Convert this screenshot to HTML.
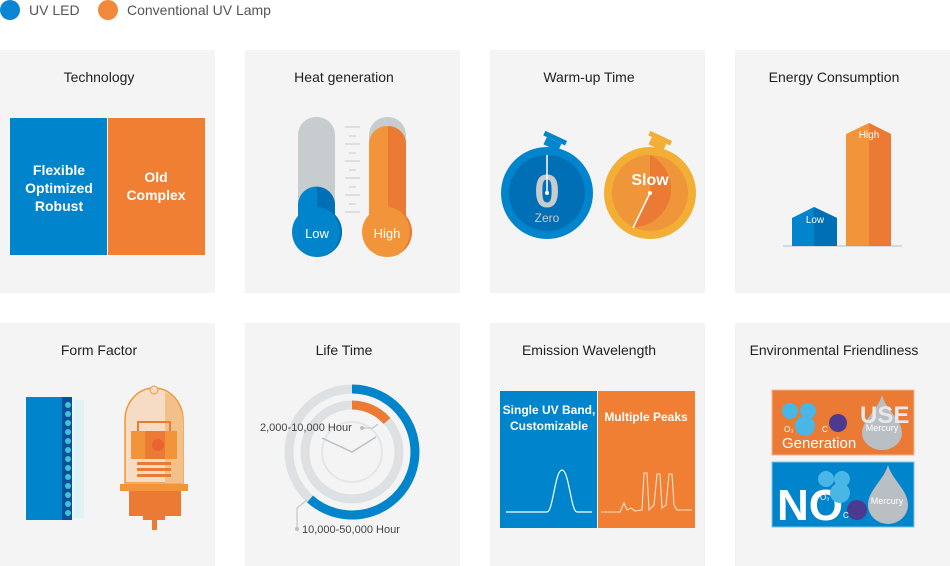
<!DOCTYPE html>
<html><head><meta charset="utf-8"><style>
html,body{margin:0;padding:0;background:#fff;width:950px;height:566px;overflow:hidden}
svg{display:block;font-family:"Liberation Sans",sans-serif}
</style></head><body>
<svg width="950" height="566" viewBox="0 0 950 566" xmlns="http://www.w3.org/2000/svg">
<!-- legend -->
<circle cx="10" cy="10" r="10" fill="#0a85d1"/>
<text x="29" y="15" font-size="14" fill="#555">UV LED</text>
<circle cx="108" cy="10" r="10" fill="#f2883a"/>
<text x="127" y="15" font-size="14" fill="#555">Conventional UV Lamp</text>
<!-- panels -->
<g fill="#f4f4f4">
<rect x="0" y="50" width="215" height="243"/><rect x="245" y="50" width="215" height="243"/>
<rect x="490" y="50" width="215" height="243"/><rect x="735" y="50" width="215" height="243"/>
<rect x="0" y="323" width="215" height="243"/><rect x="245" y="323" width="215" height="243"/>
<rect x="490" y="323" width="215" height="243"/><rect x="735" y="323" width="215" height="243"/>
</g>
<g font-size="14" fill="#222" text-anchor="middle">
<text x="99" y="82">Technology</text><text x="344" y="82">Heat generation</text>
<text x="589" y="82">Warm-up Time</text><text x="834" y="82">Energy Consumption</text>
<text x="99" y="355">Form Factor</text><text x="344" y="355">Life Time</text>
<text x="589" y="355">Emission Wavelength</text><text x="834" y="355">Environmental Friendliness</text>
</g>
<!-- Technology -->
<rect x="10" y="118" width="97" height="137" fill="#0085cc"/>
<rect x="108" y="118" width="97" height="137" fill="#f07f33"/>
<g font-size="14" font-weight="bold" fill="#fff" text-anchor="middle">
<text x="59" y="175">Flexible</text><text x="59" y="193">Optimized</text><text x="59" y="211">Robust</text>
<text x="156" y="182">Old</text><text x="156" y="200">Complex</text>
</g>
<!-- Heat -->
<rect x="298" y="117" width="37" height="110" rx="18" fill="#c7cdcf"/>
<path d="M298 205 a18 18 0 0 1 37 0 V225 H298Z" fill="#0085cc"/>
<path d="M317 187 a18 18 0 0 1 18 18 V225 H317Z" fill="#006fb6"/>
<circle cx="317" cy="232" r="25" fill="#0085cc"/>
<path d="M317 207 a25 25 0 0 1 0 50 a20 22 0 0 0 0 -50Z" fill="#006fb6"/>
<text x="317" y="238" font-size="13" fill="#fff" text-anchor="middle">Low</text>
<rect x="369" y="117" width="37" height="110" rx="18" fill="#c7cdcf"/>
<rect x="369" y="126" width="37" height="105" rx="18" fill="#f2953a"/>
<path d="M388 126 a18 18 0 0 1 18 18 V225 H388Z" fill="#ea7a34"/>
<circle cx="387" cy="232" r="25" fill="#f2953a"/>
<path d="M387 207 a25 25 0 0 1 0 50 a20 22 0 0 0 0 -50Z" fill="#ea7a34"/>
<text x="387" y="238" font-size="13" fill="#fff" text-anchor="middle">High</text>
<g stroke="#c5cacd" stroke-width="1">
<line x1="345" y1="127" x2="360" y2="127"/><line x1="349" y1="136" x2="356" y2="136"/>
<line x1="345" y1="144" x2="360" y2="144"/><line x1="349" y1="153" x2="356" y2="153"/>
<line x1="345" y1="161" x2="360" y2="161"/><line x1="349" y1="170" x2="356" y2="170"/>
<line x1="345" y1="178" x2="360" y2="178"/><line x1="349" y1="187" x2="356" y2="187"/>
<line x1="345" y1="195" x2="360" y2="195"/><line x1="349" y1="204" x2="356" y2="204"/>
<line x1="345" y1="212" x2="360" y2="212"/>
</g>
<!-- Warm-up -->
<g transform="rotate(25 552 145)"><rect x="544" y="140" width="16" height="8" fill="#0085cc"/><rect x="540" y="135" width="24" height="5" fill="#0085cc"/></g>
<circle cx="547" cy="193" r="46" fill="#0085cc"/>
<circle cx="547" cy="193" r="38" fill="#006fb6"/>
<text x="547" y="207" font-size="46" font-weight="bold" fill="#c7cdcf" text-anchor="middle">0</text>
<line x1="547" y1="155" x2="547" y2="193" stroke="#fff" stroke-width="1.5"/><circle cx="547" cy="193" r="2" fill="#fff"/>
<text x="547" y="222" font-size="12" fill="#c7cdcf" text-anchor="middle">Zero</text>
<g transform="rotate(25 657 145)"><rect x="649" y="140" width="16" height="8" fill="#f3ae35"/><rect x="645" y="135" width="24" height="5" fill="#f3ae35"/></g>
<circle cx="650" cy="193" r="46" fill="#f3ae35"/>
<circle cx="650" cy="193" r="38" fill="#f0963a"/>
<path d="M650 155 a38 38 0 0 1 -17 72 L650 193Z" fill="#ea7a34"/>
<line x1="650" y1="193" x2="633" y2="228" stroke="#fff" stroke-width="1.5"/><circle cx="650" cy="193" r="2" fill="#fff"/>
<text x="650" y="185" font-size="16" font-weight="bold" fill="#fff" text-anchor="middle">Slow</text>
<!-- Energy -->
<rect x="783" y="245" width="119" height="2" fill="#d5d9db"/>
<path d="M792 218 L814 207 L837 218 V246 H792Z" fill="#0085cc"/>
<path d="M814 207 L837 218 V246 H814Z" fill="#006fb6"/>
<text x="815" y="223" font-size="10" fill="#fff" text-anchor="middle">Low</text>
<path d="M846 134 L869 123 L891 134 V246 H846Z" fill="#f2953a"/>
<path d="M869 123 L891 134 V246 H869Z" fill="#ea7a34"/>
<text x="869" y="138" font-size="10" fill="#fff" text-anchor="middle">High</text>
<!-- Form factor -->
<rect x="74" y="400" width="10" height="118" fill="#dff3f6"/>
<rect x="26" y="397" width="46" height="123" fill="#0085cc"/>
<rect x="62" y="397" width="10" height="123" fill="#0a4f9c"/>
<g fill="#3cc4d2">
<circle cx="68" cy="405" r="3"/><circle cx="68" cy="414" r="3"/><circle cx="68" cy="423" r="3"/><circle cx="68" cy="432" r="3"/><circle cx="68" cy="441" r="3"/><circle cx="68" cy="450" r="3"/><circle cx="68" cy="459" r="3"/><circle cx="68" cy="468" r="3"/><circle cx="68" cy="477" r="3"/><circle cx="68" cy="486" r="3"/><circle cx="68" cy="495" r="3"/><circle cx="68" cy="504" r="3"/><circle cx="68" cy="513" r="3"/>
</g>
<path d="M125 483 V420 a29 32 0 0 1 58 0 V483Z" fill="#f6dcc4" stroke="#f0963a" stroke-width="1.5"/>
<path d="M165 392 a29 32 0 0 1 18 28 V483 H165Z" fill="#f3c08a"/>
<circle cx="154" cy="390" r="4" fill="#f6dcc4" stroke="#f0963a"/>
<rect x="138" y="422" width="32" height="30" fill="none" stroke="#ea7a34" stroke-width="2"/>
<rect x="131" y="431" width="46" height="28" fill="#f2953a"/>
<rect x="145" y="431" width="20" height="28" fill="#ea7a34"/>
<circle cx="158" cy="445" r="6" fill="#e8632d"/>
<g fill="#ea7a34"><rect x="137" y="462" width="34" height="3"/><rect x="137" y="468" width="34" height="3"/><rect x="137" y="474" width="34" height="3"/></g>
<rect x="120" y="484" width="68" height="7" fill="#f2953a"/>
<rect x="129" y="491" width="52" height="25" fill="#ea7a34"/>
<rect x="143" y="516" width="22" height="4" fill="#ea7a34"/>
<rect x="152" y="520" width="5" height="10" fill="#ea7a34"/>
<!-- Life time -->
<circle cx="352" cy="452" r="63" fill="none" stroke="#dde1e4" stroke-width="9"/>
<path d="M352 389 A63 63 0 1 1 310 499" fill="none" stroke="#0085cc" stroke-width="9"/>
<circle cx="352" cy="452" r="47" fill="none" stroke="#dde1e4" stroke-width="9"/>
<path d="M352 405 A47 47 0 0 1 387 421" fill="none" stroke="#ea7a34" stroke-width="9"/>
<circle cx="352" cy="452" r="30" fill="none" stroke="#e3e6e8" stroke-width="2"/>
<polyline points="322,438 352,452 376,437" fill="none" stroke="#b9c0c4" stroke-width="1.5"/>
<polyline points="378,424 373,428 362,428" fill="none" stroke="#b9c0c4"/><circle cx="362" cy="428" r="2" fill="#b9c0c4"/>
<text x="260" y="431" font-size="11" fill="#444">2,000-10,000 Hour</text>
<polyline points="307,500 297,508 297,529" fill="none" stroke="#b9c0c4"/><circle cx="297" cy="529" r="2" fill="#b9c0c4"/>
<text x="302" y="533" font-size="11" fill="#444">10,000-50,000 Hour</text>
<!-- Emission -->
<rect x="500" y="391" width="97" height="137" fill="#0085cc"/>
<rect x="598" y="391" width="97" height="137" fill="#f07f33"/>
<g font-size="12" font-weight="bold" fill="#fff" text-anchor="middle">
<text x="549" y="414">Single UV Band,</text><text x="549" y="430">Customizable</text>
<text x="646" y="421">Multiple Peaks</text>
</g>
<path d="M506 512 H547 C553 512 555 470 562 470 C569 470 571 512 577 512 H592" fill="none" stroke="#fff" stroke-width="1.2"/>
<path d="M601 512 H620 L624 503 L627 510 L631 508 L635 511 L642 510 L644 473 L647 473 L649 510 L654 505 L657 474 L660 474 L662 508 L666 505 L669 474 L672 474 L674 505 L677 510 H692" fill="none" stroke="#fde0c8" stroke-width="1.1"/>
<!-- Environmental -->
<rect x="772" y="390" width="142" height="65" fill="#ea7a34" stroke="#f5b58a"/>
<rect x="772" y="462" width="142" height="65" fill="#0085cc" stroke="#7fc2e6"/>
<g fill="#49b6e6"><circle cx="790" cy="411" r="8"/><circle cx="808" cy="411" r="8"/><circle cx="805" cy="426" r="10"/></g>
<circle cx="838" cy="423" r="9" fill="#4b3a8f"/>
<text x="784" y="432" font-size="8" fill="#fff">O₃</text><text x="822" y="432" font-size="8" fill="#fff">C</text>
<text x="782" y="448" font-size="15" fill="#fff">Generation</text>
<path d="M882 395 C878 410 862 420 862 433 a20 17 0 0 0 40 0 C902 420 886 410 882 395Z" fill="#b9bfc3"/>
<text x="860" y="423" font-size="24" font-weight="bold" fill="#e8e8e8">USE</text>
<text x="882" y="431" font-size="9" fill="#fff" text-anchor="middle">Mercury</text>
<text x="777" y="520" font-size="44" font-weight="bold" fill="#fff">NO</text>
<g fill="#49b6e6"><circle cx="826" cy="479" r="8"/><circle cx="842" cy="479" r="8"/><circle cx="840" cy="493" r="10"/></g>
<circle cx="857" cy="510" r="10" fill="#4b3a8f"/>
<text x="820" y="500" font-size="8" fill="#fff">O₃</text><text x="843" y="518" font-size="8" fill="#fff">C</text>
<path d="M888 465 C884 480 868 490 868 505 a20 19 0 0 0 40 0 C908 490 892 480 888 465Z" fill="#b9bfc3"/>
<text x="887" y="504" font-size="9" fill="#fff" text-anchor="middle">Mercury</text>
</svg>
</body></html>
